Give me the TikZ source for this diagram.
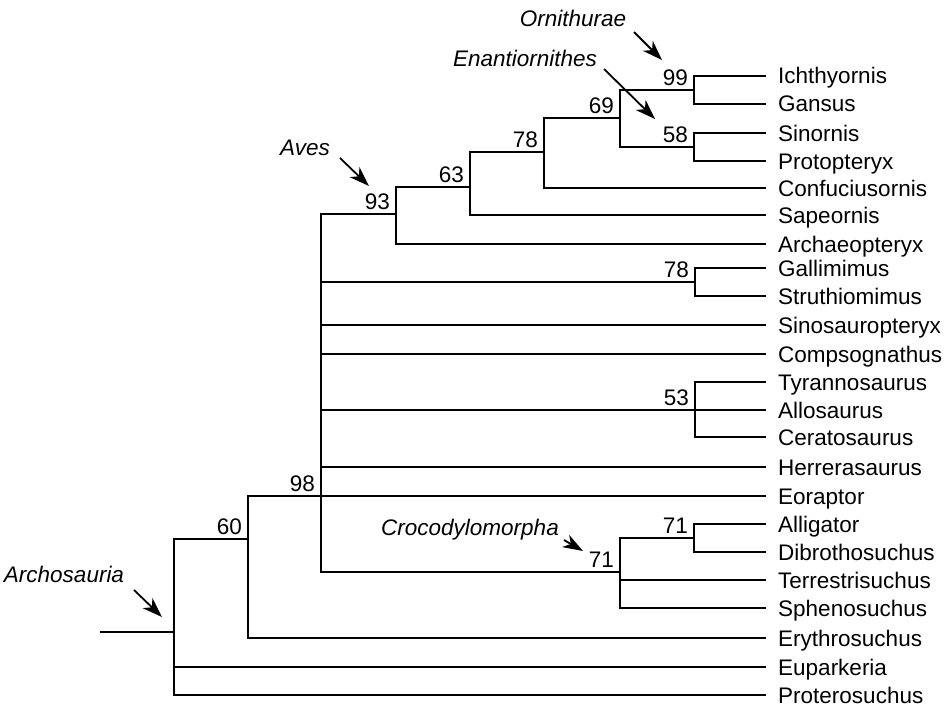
\documentclass[tikz,border=0pt]{standalone}
\usepackage{fontspec}
\setmainfont{Liberation Sans}
\usetikzlibrary{arrows.meta}
\tikzset{
	leaf/.style={anchor=west,inner xsep=12pt,inner ysep=0pt,text height=16pt,text depth=0pt},
	num/.style={anchor=south east,inner sep=0pt,xshift=-6pt,yshift=4pt},
	clade/.style={font=\fontsize{22.5}{26}\selectfont\itshape,inner sep=0pt,text height=16pt,text depth=0pt},
	branch/.style={line width=1.8pt},
	pointer/.style={line width=1.8pt,-{Stealth[length=20pt,width=14pt,inset=6pt]}}
}
\begin{document}
\begin{tikzpicture}[x=1pt,y=-1pt,font=\fontsize{22.5}{26}\selectfont, line join=miter]
	\useasboundingbox (0,0) rectangle (949,706);
	% taxa
	\foreach \name/\y in {Ichthyornis/76,Gansus/104,Sinornis/133,Protopteryx/161,Confuciusornis/188,
		Sapeornis/215,Archaeopteryx/244,Gallimimus/268,Struthiomimus/296,Sinosauropteryx/325,
		Compsognathus/354,Tyrannosaurus/382,Allosaurus/410,Ceratosaurus/437,Herrerasaurus/467,
		Eoraptor/496,Alligator/524,Dibrothosuchus/552,Terrestrisuchus/580,Sphenosuchus/608,
		Erythrosuchus/638,Euparkeria/667,Proterosuchus/695}{
		\node[leaf] (\name) at (766,\y) {\name};}
	% internal nodes
	\coordinate (ornith) at (694,90);
	\coordinate (enant) at (694,147);
	\coordinate (n69) at (620,118);
	\coordinate (n78) at (544,152);
	\coordinate (n63) at (470,187);
	\coordinate (aves) at (396,214);
	\coordinate (galli) at (695,282);
	\coordinate (tyran) at (695,410);
	\coordinate (alli) at (694,538);
	\coordinate (croco) at (620,572);
	\coordinate (n98) at (321,496);
	\coordinate (n60) at (248,539);
	\coordinate (archo) at (174,632);
	\coordinate (root) at (100,632);
	% branches
	\foreach \a/\b in {ornith/Ichthyornis.west,ornith/Gansus.west,enant/Sinornis.west,enant/Protopteryx.west,
		n69/ornith,n69/enant,n78/n69,n78/Confuciusornis.west,n63/n78,n63/Sapeornis.west,
		aves/n63,aves/Archaeopteryx.west,galli/Gallimimus.west,galli/Struthiomimus.west,
		tyran/Tyrannosaurus.west,tyran/Allosaurus.west,tyran/Ceratosaurus.west,
		alli/Alligator.west,alli/Dibrothosuchus.west,croco/alli,croco/Terrestrisuchus.west,croco/Sphenosuchus.west,
		n98/aves,n98/galli,n98/Sinosauropteryx.west,n98/Compsognathus.west,n98/tyran,
		n98/Herrerasaurus.west,n98/Eoraptor.west,n98/croco,
		n60/n98,n60/Erythrosuchus.west,archo/n60,archo/Euparkeria.west,archo/Proterosuchus.west}{
		\draw[branch] (\a) |- (\b);}
	\draw[branch] (root) -- (archo);
	% support values
	\foreach \c/\v in {ornith/99,enant/58,n69/69,n78/78,n63/63,aves/93,galli/78,tyran/53,
		alli/71,croco/71,n98/98,n60/60}{
		\node[num] (b-\c) at (\c) {\v};}
	% clade names
	\node[clade] (l-ornith) at (573,19) {Ornithurae};
	\node[clade] (l-enant) at (525,59) {Enantiornithes};
	\node[clade] (l-aves) at (305,147) {Aves};
	\node[clade] (l-croco) at (470,527) {Crocodylomorpha};
	\node[clade] (l-archo) at (64,574) {Archosauria};
	\coordinate (t-ornith) at (634,32);  \coordinate (h-ornith) at (662,60);
	\coordinate (t-enant) at (604,69);   \coordinate (h-enant) at (655,119);
	\coordinate (t-aves) at (340,158);   \coordinate (h-aves) at (369,186);
	\coordinate (t-croco) at (564,540);  \coordinate (h-croco) at (583,551);
	\coordinate (t-archo) at (134,590);  \coordinate (h-archo) at (162,617);
	\foreach \c in {ornith,enant,aves,croco,archo}{
		\draw[pointer] (t-\c) -- (h-\c);}
\end{tikzpicture}
\end{document}
